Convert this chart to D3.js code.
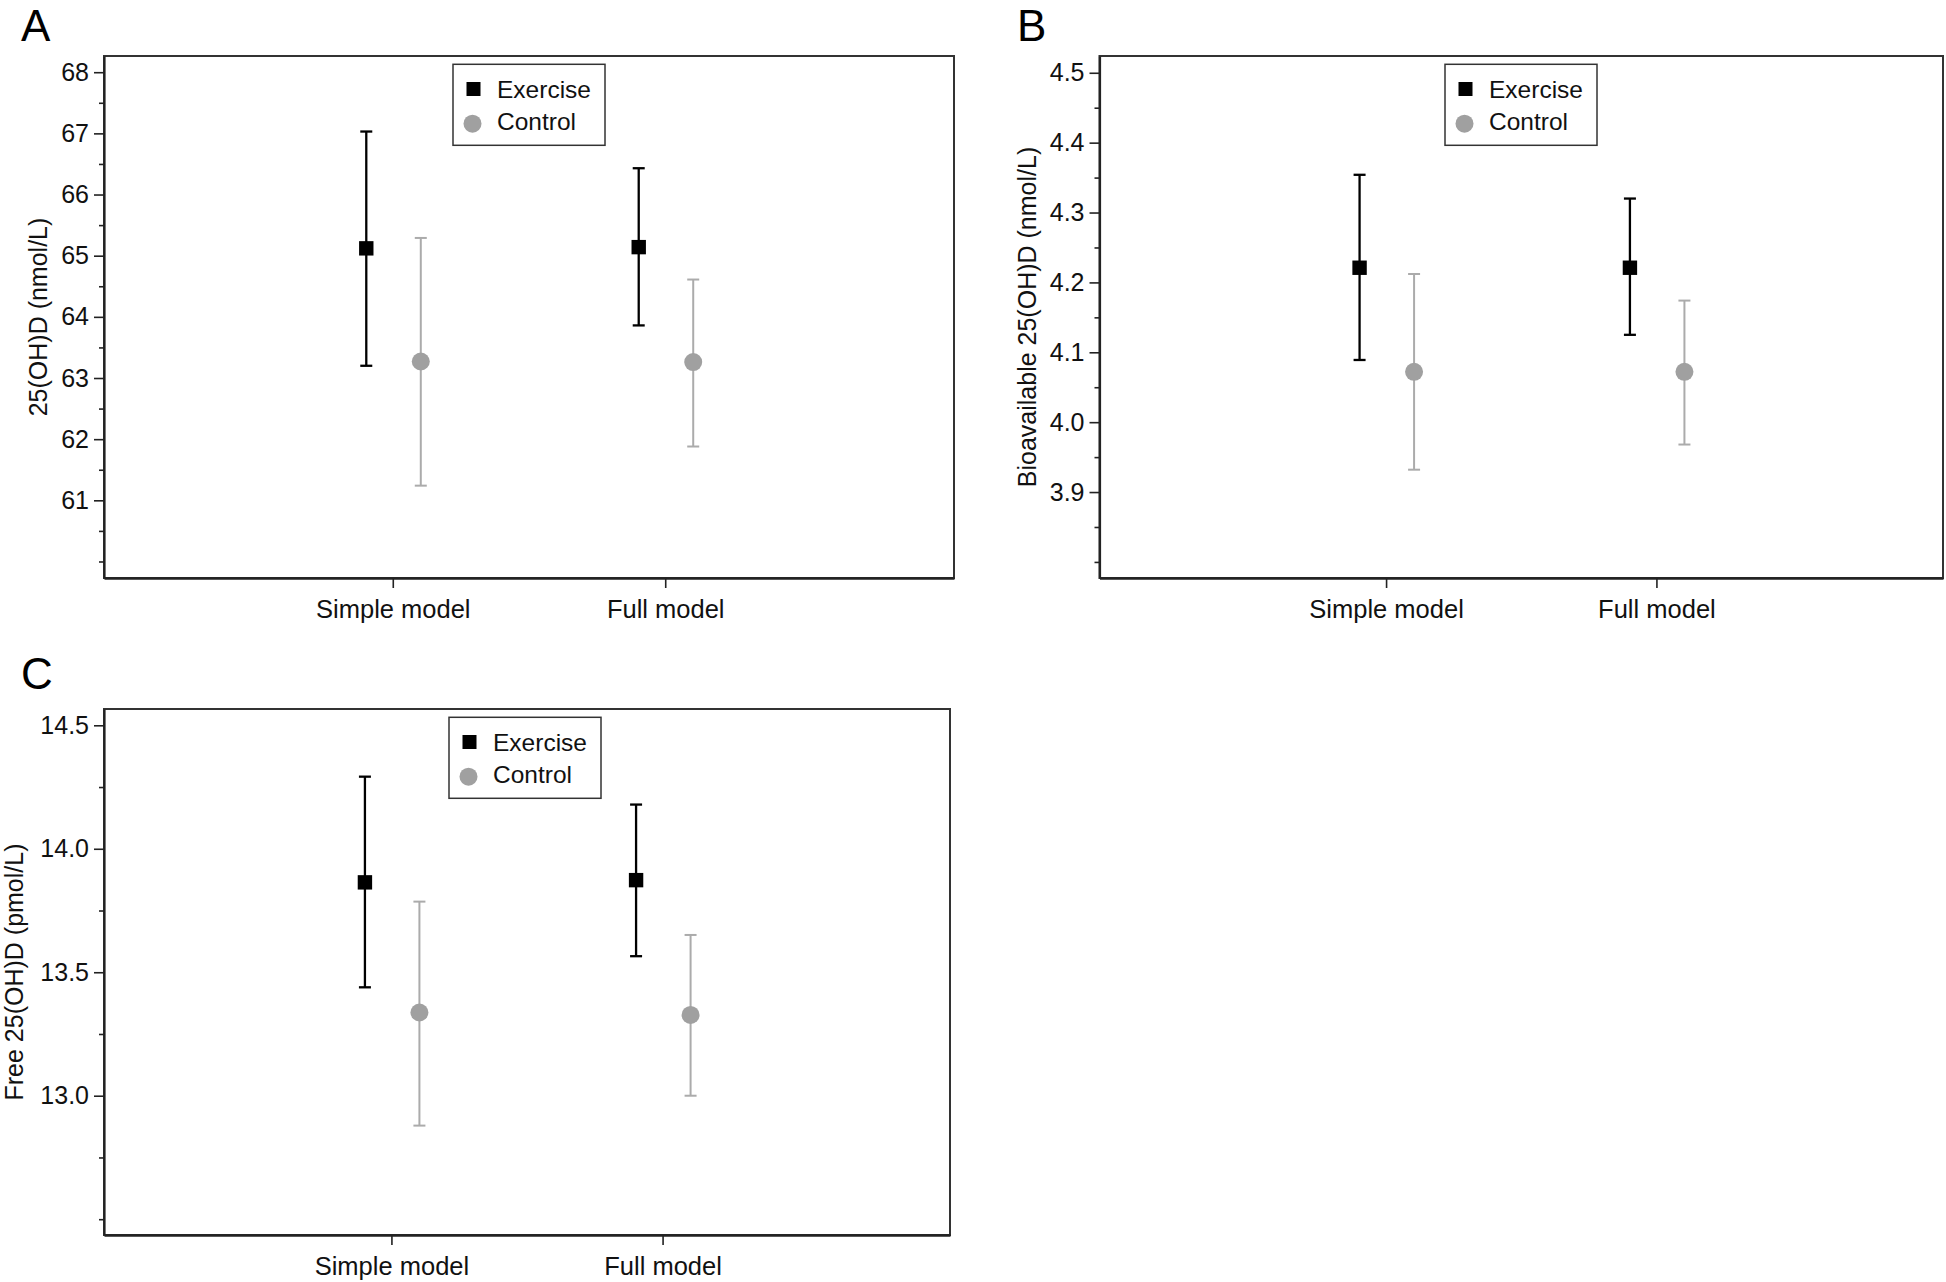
<!DOCTYPE html>
<html>
<head>
<meta charset="utf-8">
<script src="https://cdn.jsdelivr.net/npm/d3@7"></script>
<style>
  html, body { margin: 0; padding: 0; background: #fff; }
  svg { display: block; font-family: "Liberation Sans", Arial, Helvetica, sans-serif; }
</style>
</head>
<body>
<svg id="chart" width="1946" height="1282"></svg>
<script>
// ---------------- data ----------------
const categories = ["Simple model", "Full model"];
const groups = ["Exercise", "Control"];

// Panel A: 25(OH)D (nmol/L)
const exerciseMeanA = [65.12, 65.14];
const exerciseLowA  = [63.20, 63.86];
const exerciseHighA = [67.03, 66.43];
const controlMeanA  = [63.27, 63.26];
const controlLowA   = [61.24, 61.88];
const controlHighA  = [65.29, 64.61];
const majorTicksA = [61, 62, 63, 64, 65, 66, 67, 68];
const minorTicksA = [60, 60.5, 61.5, 62.5, 63.5, 64.5, 65.5, 66.5, 67.5];

// Panel B: Bioavailable 25(OH)D (nmol/L)
const exerciseMeanB = [4.221, 4.221];
const exerciseLowB  = [4.089, 4.125];
const exerciseHighB = [4.354, 4.320];
const controlMeanB  = [4.072, 4.072];
const controlLowB   = [3.932, 3.968];
const controlHighB  = [4.212, 4.174];
const majorTicksB = [3.9, 4.0, 4.1, 4.2, 4.3, 4.4, 4.5];
const minorTicksB = [3.8, 3.85, 3.95, 4.05, 4.15, 4.25, 4.35, 4.45];

// Panel C: Free 25(OH)D (pmol/L)
const exerciseMeanC = [13.864, 13.873];
const exerciseLowC  = [13.439, 13.565];
const exerciseHighC = [14.292, 14.179];
const controlMeanC  = [13.337, 13.327];
const controlLowC   = [12.879, 13.000];
const controlHighC  = [13.786, 13.651];
const majorTicksC = [13.0, 13.5, 14.0, 14.5];
const minorTicksC = [12.5, 12.75, 13.25, 13.75, 14.25];

// ---------------- layout ----------------
const svg = d3.select("#chart");
const TICK_FONT = 25;
const XLAB_FONT = 25.5;
const TITLE_FONT = 25;
const LEG_FONT = 24.5;
const exColor = "#000000";
const ctColor = "#a0a0a0";
const ctBarColor = "#ababab";

const panels = [
  { label: "A", yTitle: "25(OH)D (nmol/L)", left: 104, right: 954, top: 56, bottom: 578,
    domain: [59.73, 68.265], fmt: d3.format("d"), major: majorTicksA, minor: minorTicksA,
    ex: [exerciseMeanA, exerciseLowA, exerciseHighA], ct: [controlMeanA, controlLowA, controlHighA],
    labelX: 21, labelY: 41, yTitleX: 38, legendDx: 349 },
  { label: "B", yTitle: "Bioavailable 25(OH)D (nmol/L)", left: 1099.5, right: 1943, top: 56, bottom: 578,
    domain: [3.777, 4.524], fmt: d3.format(".1f"), major: majorTicksB, minor: minorTicksB,
    ex: [exerciseMeanB, exerciseLowB, exerciseHighB], ct: [controlMeanB, controlLowB, controlHighB],
    labelX: 1017, labelY: 41, yTitleX: 1027, legendDx: 345.5 },
  { label: "C", yTitle: "Free 25(OH)D (pmol/L)", left: 104, right: 950, top: 709, bottom: 1235,
    domain: [12.436, 14.566], fmt: d3.format(".1f"), major: majorTicksC, minor: minorTicksC,
    ex: [exerciseMeanC, exerciseLowC, exerciseHighC], ct: [controlMeanC, controlLowC, controlHighC],
    labelX: 21, labelY: 689, yTitleX: 14, legendDx: 345 }
];

panels.forEach(p => drawPanel(p));

function drawPanel(p) {
  const g = svg.append("g");
  const x = d3.scalePoint().domain(categories).range([p.left, p.right]).padding(1.06);
  const y = d3.scaleLinear().domain(p.domain).range([p.bottom, p.top]);

  // panel letter
  g.append("text").attr("x", p.labelX).attr("y", p.labelY)
    .attr("font-size", 44).attr("fill", "#000").text(p.label);

  // frame
  g.append("rect").attr("x", p.left).attr("y", p.top)
    .attr("width", p.right - p.left).attr("height", p.bottom - p.top)
    .attr("fill", "none").attr("stroke", "#333").attr("stroke-width", 2);

  // y axis major
  const yAxis = d3.axisLeft(y).tickValues(p.major).tickFormat(p.fmt)
    .tickSize(10).tickSizeOuter(0).tickPadding(5);
  const ya = g.append("g").attr("transform", `translate(${p.left},0)`).call(yAxis);
  ya.select(".domain").attr("stroke", "#222").attr("stroke-width", 2.2);
  ya.selectAll(".tick line").attr("stroke", "#222").attr("stroke-width", 1.6);
  ya.selectAll(".tick text").attr("font-size", TICK_FONT).attr("fill", "#111")
    .attr("font-family", '"Liberation Sans", Arial, sans-serif');
  // y axis minor
  const yMinor = d3.axisLeft(y).tickValues(p.minor).tickFormat("").tickSize(5).tickSizeOuter(0);
  const ym = g.append("g").attr("transform", `translate(${p.left},0)`).call(yMinor);
  ym.select(".domain").remove();
  ym.selectAll(".tick line").attr("stroke", "#222").attr("stroke-width", 1.6);

  // x axis
  const xAxis = d3.axisBottom(x).tickSize(10).tickSizeOuter(0).tickPadding(12);
  const xa = g.append("g").attr("transform", `translate(0,${p.bottom})`).call(xAxis);
  xa.select(".domain").attr("stroke", "#222").attr("stroke-width", 2.6);
  xa.selectAll(".tick line").attr("stroke", "#222").attr("stroke-width", 1.6);
  xa.selectAll(".tick text").attr("font-size", XLAB_FONT).attr("fill", "#111")
    .attr("font-family", '"Liberation Sans", Arial, sans-serif');

  // y title
  g.append("text")
    .attr("transform", `translate(${p.yTitleX},${(p.top + p.bottom) / 2}) rotate(-90)`)
    .attr("text-anchor", "middle").attr("dy", "0.35em")
    .attr("font-size", TITLE_FONT).attr("fill", "#111").text(p.yTitle);

  // error bars + markers
  const series = [
    { name: groups[0], vals: p.ex, dx: -26.5, color: exColor, barColor: exColor, bw: 2.3, shape: "square" },
    { name: groups[1], vals: p.ct, dx: 28, color: ctColor, barColor: ctBarColor, bw: 2, shape: "circle" }
  ];
  const capHalf = 6;
  series.forEach(s => {
    const data = categories.map((c, i) => ({ c, mean: s.vals[0][i], lo: s.vals[1][i], hi: s.vals[2][i] }));
    const sg = g.append("g");
    sg.selectAll("line.v").data(data).join("line")
      .attr("x1", d => x(d.c) + s.dx).attr("x2", d => x(d.c) + s.dx)
      .attr("y1", d => y(d.lo)).attr("y2", d => y(d.hi))
      .attr("stroke", s.barColor).attr("stroke-width", s.bw);
    sg.selectAll("line.hi").data(data).join("line")
      .attr("x1", d => x(d.c) + s.dx - capHalf).attr("x2", d => x(d.c) + s.dx + capHalf)
      .attr("y1", d => y(d.hi)).attr("y2", d => y(d.hi))
      .attr("stroke", s.barColor).attr("stroke-width", s.bw);
    sg.selectAll("line.lo").data(data).join("line")
      .attr("x1", d => x(d.c) + s.dx - capHalf).attr("x2", d => x(d.c) + s.dx + capHalf)
      .attr("y1", d => y(d.lo)).attr("y2", d => y(d.lo))
      .attr("stroke", s.barColor).attr("stroke-width", s.bw);
    if (s.shape === "square") {
      sg.selectAll("rect.m").data(data).join("rect")
        .attr("x", d => x(d.c) + s.dx - 7.2).attr("y", d => y(d.mean) - 7.2)
        .attr("width", 14.4).attr("height", 14.4).attr("fill", s.color);
    } else {
      sg.selectAll("circle.m").data(data).join("circle")
        .attr("cx", d => x(d.c) + s.dx).attr("cy", d => y(d.mean))
        .attr("r", 9).attr("fill", s.color);
    }
  });

  // legend
  const lx = p.left + p.legendDx, ly = p.top + 8.3;
  const lg = g.append("g").attr("transform", `translate(${lx},${ly})`);
  lg.append("rect").attr("x", 0).attr("y", 0).attr("width", 152).attr("height", 81)
    .attr("fill", "#fff").attr("stroke", "#333").attr("stroke-width", 1.5);
  lg.append("rect").attr("x", 20.5 - 7).attr("y", 24.7 - 7).attr("width", 14).attr("height", 14).attr("fill", exColor);
  lg.append("circle").attr("cx", 19.5).attr("cy", 59.4).attr("r", 9).attr("fill", ctColor);
  lg.append("text").attr("x", 44).attr("y", 33.4).attr("font-size", LEG_FONT).attr("fill", "#111").text(groups[0]);
  lg.append("text").attr("x", 44).attr("y", 66).attr("font-size", LEG_FONT).attr("fill", "#111").text(groups[1]);
}
</script>
</body>
</html>
